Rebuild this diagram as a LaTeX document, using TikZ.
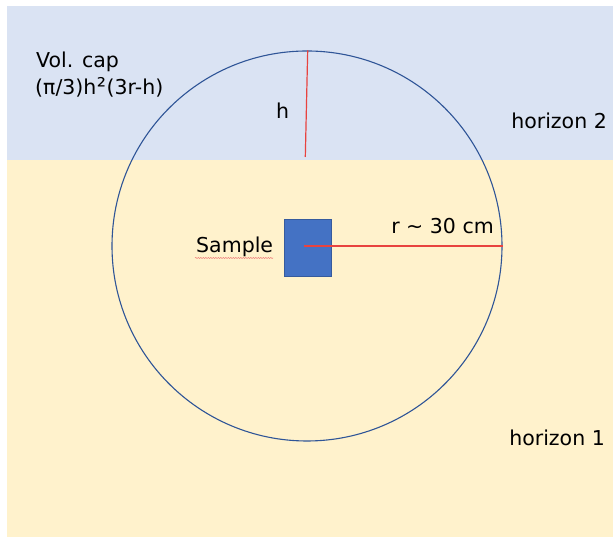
\documentclass[tikz,border=0pt]{standalone}
\usepackage{fontspec}
\setmainfont{DejaVu Sans}
\usetikzlibrary{decorations.pathmorphing}
\definecolor{skyband}{HTML}{DAE3F3}
\definecolor{soilband}{HTML}{FFF2CC}
\definecolor{samplefill}{HTML}{4472C4}
\definecolor{circline}{HTML}{2F5597}
\definecolor{redline}{HTML}{E8433F}
\tikzset{
  lbl/.style={inner sep=0pt, font=\fontsize{20.5}{24}\selectfont, text=black},
  redseg/.style={draw=redline, line width=1.2pt},
}
\begin{document}
\begin{tikzpicture}[x=1pt,y=1pt]
\useasboundingbox (0,0) rectangle (613,537);
% bands
\fill[soilband] (7,0) rectangle (613,377);
\fill[skyband] (7,377) rectangle (613,531);
% circle
\node[circle, draw=circline, line width=1.1pt, minimum size=390pt, inner sep=0pt] (sphere) at (307,291) {};
% sample
\node[draw=samplefill!80!black, line width=0.5pt, fill=samplefill, minimum width=47pt, minimum height=57pt, inner sep=0pt] (sample) at (308,289.5) {};
% radius line
\coordinate (rstart) at (303.5,291);
\draw[redseg] (rstart) -- (sphere.east);
% h line
\coordinate (hbot) at (305.3,380);
\draw[redseg] (sphere.north) ++(0.7,0) coordinate (htop) (htop) -- (hbot);
% labels
\node[lbl, anchor=base west] (vol) at (36,469) {Vol. cap};
\node[lbl, anchor=base west] (formula) at (35,442) {(π/3)h\kern0.5pt\raisebox{0.5pt}{\fontsize{23}{24}\selectfont ²}\kern0.5pt(3r-h)};
\node[lbl, anchor=base west] (hlabel) at (276,418) {h};
\node[lbl, anchor=base east] (h2) at (607,408) {horizon 2};
\node[lbl, anchor=base east] (h1) at (605,91) {horizon 1};
\node[lbl, anchor=base east] (rlabel) at (494,303) {r \char"007E{} 30 cm};
\node[lbl, anchor=base west] (samplelbl) at (196,284) {Sample};
\draw[redline!70, line width=0.5pt, decorate, decoration={snake, amplitude=0.6pt, segment length=2.5pt}] (samplelbl.base west) ++(-1,-5) -- ++(78,0);
\end{tikzpicture}
\end{document}
